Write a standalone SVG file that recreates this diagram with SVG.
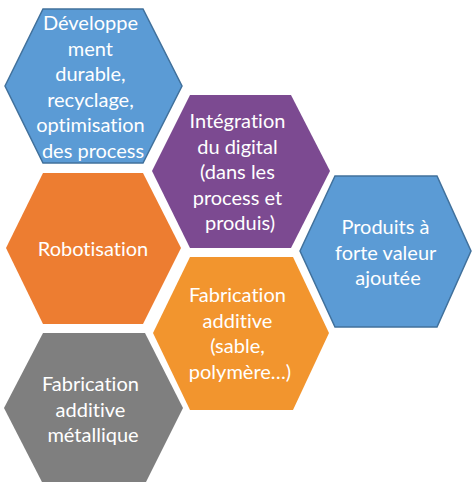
<svg xmlns="http://www.w3.org/2000/svg" width="473" height="482" viewBox="0 0 473 482">
  <style>
    .lbl { font-family: Lato, "Open Sans", "Liberation Sans", sans-serif; font-size: 20px; font-weight: 400; font-variant-ligatures: none; fill: #ffffff; text-anchor: middle; }
    .blue { fill: #5B9BD5; stroke: #41719C; stroke-width: 1.5; }
    .purple { fill: #7C4A91; }
    .orange { fill: #ED7D31; }
    .amber { fill: #F2952E; }
    .gray { fill: #7F7F7F; }
  </style>
  <rect width="473" height="482" fill="#ffffff"/>

  <g id="developpement">
    <polygon class="blue" points="5,86 43,9 143,9 182,86 143,163 43,163"/>
    <text class="lbl">
      <tspan x="93" y="30">Développe</tspan>
      <tspan x="93" y="55.5">ment</tspan>
      <tspan x="93" y="81">durable,</tspan>
      <tspan x="93" y="106.5">recyclage,</tspan>
      <tspan x="93" y="132">optimisation</tspan>
      <tspan x="93" y="157.5">des process</tspan>
    </text>
  </g>

  <g id="integration">
    <polygon class="purple" points="152,171 190,95 291,95 330,171 291,248 190,248"/>
    <text class="lbl">
      <tspan x="240" y="128">Intégration</tspan>
      <tspan x="240" y="153.5">du digital</tspan>
      <tspan x="240" y="179">(dans les</tspan>
      <tspan x="240" y="204.5">process et</tspan>
      <tspan x="240" y="230">produis)</tspan>
    </text>
  </g>

  <g id="robotisation">
    <polygon class="orange" points="6,248 43,173 143,173 181,248 143,324 43,324"/>
    <text class="lbl" x="93" y="256">Robotisation</text>
  </g>

  <g id="produits">
    <polygon class="blue" points="300,251 335,176 437,176 471,251 437,327 335,327"/>
    <text class="lbl">
      <tspan x="388" y="234">Produits à</tspan>
      <tspan x="388" y="260">forte valeur</tspan>
      <tspan x="388" y="285">ajoutée</tspan>
    </text>
  </g>

  <g id="fabrication-additive">
    <polygon class="amber" points="153,333 190,257 293,257 329,333 293,410 190,410"/>
    <text class="lbl">
      <tspan x="240" y="302">Fabrication</tspan>
      <tspan x="240" y="328">additive</tspan>
      <tspan x="240" y="353">(sable,</tspan>
      <tspan x="240" y="379">polymère…)</tspan>
    </text>
  </g>

  <g id="fabrication-metallique">
    <polygon class="gray" points="4,408 43,333 145,333 183,408 145,484 43,484"/>
    <text class="lbl">
      <tspan x="93" y="391">Fabrication</tspan>
      <tspan x="93" y="417">additive</tspan>
      <tspan x="93" y="442">métallique</tspan>
    </text>
  </g>
</svg>
